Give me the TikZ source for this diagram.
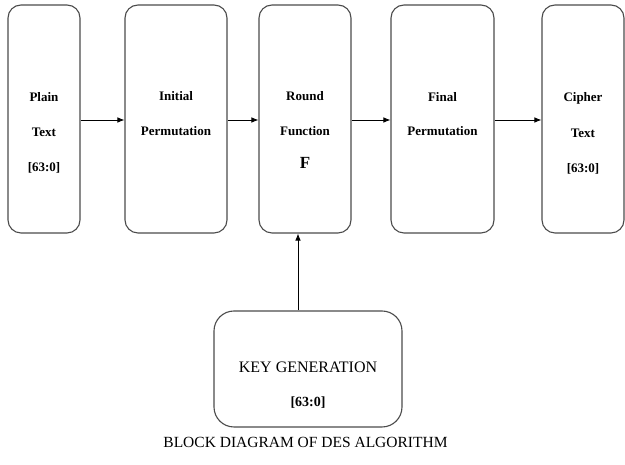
\documentclass[tikz,border=0pt]{standalone}
\usepackage{fontspec}
\setmainfont{Liberation Serif}
\usetikzlibrary{arrows.meta,calc}
\begin{document}
\begin{tikzpicture}[x=1pt,y=1pt,
  blk/.style={draw=black!70,line width=1.1pt,rounded corners=13pt,inner sep=0pt},
  lbl/.style={font=\fontsize{13}{15}\selectfont\bfseries,inner sep=0pt},
  conn/.style={line width=0.8pt,-{Latex[length=7pt,width=5.5pt]}}]
\useasboundingbox (0,0) rectangle (625,465);
\fill[white] (0,0) rectangle (625,465);
% boxes (pixel coords, y flipped)
\node[blk,minimum width=72pt,minimum height=228pt] (b1) at (44,346) {};
\node[blk,minimum width=102pt,minimum height=228pt] (b2) at (176,346) {};
\node[blk,minimum width=92pt,minimum height=228pt] (b3) at (305,346) {};
\node[blk,minimum width=103pt,minimum height=228pt] (b4) at (442.5,346) {};
\node[blk,minimum width=82pt,minimum height=228pt] (b5) at (583,346) {};
\node[blk,rounded corners=20pt,minimum width=188pt,minimum height=116pt] (key) at (308,96) {};
% labels
\node[lbl] (t1a) at (44,368) {Plain};
\node[lbl] (t1b) at (44,333) {Text};
\node[lbl] (t1c) at (44,297) {[63:0]};
\node[lbl] (t2a) at (176,369) {Initial};
\node[lbl] (t2b) at (176,334) {Permutation};
\node[lbl] (t3a) at (305,369) {Round};
\node[lbl] (t3b) at (305,334) {Function};
\node[lbl,font=\fontsize{17}{19}\selectfont\bfseries] (t3c) at (305,302) {F};
\node[lbl] (t4a) at (442.5,368) {Final};
\node[lbl] (t4b) at (442.5,334) {Permutation};
\node[lbl] (t5a) at (583,367) {Cipher};
\node[lbl] (t5b) at (583,332) {Text};
\node[lbl] (t5c) at (583,296) {[63:0]};
\node[inner sep=0pt,font=\fontsize{16}{18}\selectfont] (kt) at (308,98) {KEY GENERATION};
\node[lbl,font=\fontsize{14}{16}\selectfont\bfseries] (kn) at (308,62) {[63:0]};
\node[inner sep=0pt,font=\fontsize{15.5}{17}\selectfont] (cap) at (305.5,23) {BLOCK DIAGRAM OF DES ALGORITHM};
% connectors
\coordinate (ka) at ($(key.north)+(-10,0)$);
\draw[conn] (b1.east |- 0,345) -- (b2.west |- 0,345);
\draw[conn] (b2.east |- 0,345) -- (b3.west |- 0,345);
\draw[conn] (b3.east |- 0,345) -- (b4.west |- 0,345);
\draw[conn] (b4.east |- 0,345) -- (b5.west |- 0,345);
\draw[conn] (ka) -- (ka |- b3.south);
\end{tikzpicture}
\end{document}
